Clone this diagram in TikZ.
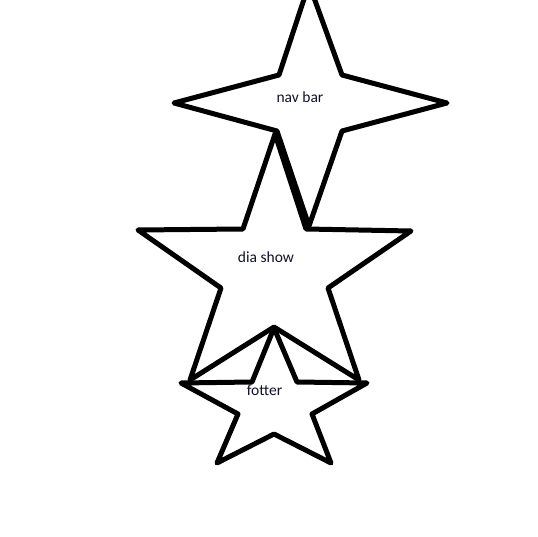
\documentclass[tikz,border=0pt]{standalone}
\usepackage{fontspec}
\setmainfont{Carlito}
\definecolor{txt}{RGB}{16,16,40}
\begin{document}
\begin{tikzpicture}[x=1pt,y=-1pt,
  starline/.style={draw=black,line width=5pt,line join=round,fill=none},
  lbl/.style={anchor=base,inner sep=0pt,text=txt,font=\fontsize{15.5}{18}\selectfont}]
\useasboundingbox (0,0) rectangle (538,537);
\fill[white] (0,0) rectangle (538,537);
\begin{scope}
\clip (0,0) rectangle (538,537);
% nav bar: four-pointed star
\draw[starline] (309,-16) -- (279,75) -- (174,103) -- (277,131) -- (309,226)
  -- (342,131) -- (447,103) -- (342,75) -- cycle;
% dia show: five-pointed star
\draw[starline] (275,134) -- (243,229) -- (138,230) -- (221,288) -- (190,380)
  -- (274,327) -- (359,380) -- (328,288) -- (411,231) -- (306,229) -- cycle;
% fotter: five-pointed star
\draw[starline] (274,328) -- (252,382) -- (181,383) -- (238,414) -- (217,463)
  -- (274,434) -- (331,463) -- (312,414) -- (367,383) -- (297,382) -- cycle;
\end{scope}
\node[lbl] (nav) at (300,103) {nav bar};
\node[lbl] (dia) at (266,263) {dia show};
\node[lbl] (fot) at (264.5,395) {fotter};
\end{tikzpicture}
\end{document}
